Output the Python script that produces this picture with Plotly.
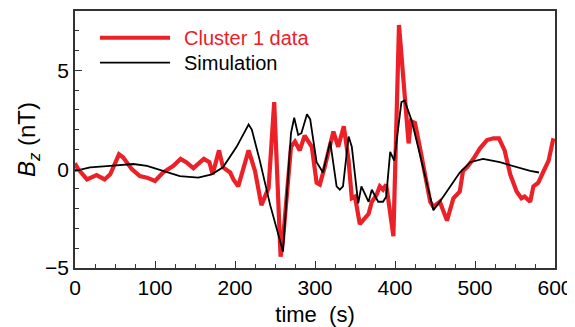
import plotly.graph_objects as go

# Cluster 1 data (red)
data_t = [0, 4, 15, 27, 37, 44, 55, 60, 71, 81, 90, 100, 110, 123, 132, 139, 148, 154, 161, 168,
          172, 180, 185, 194, 198, 204, 210, 217, 225, 233, 242, 249, 257, 260, 270, 275, 281,
          287, 296, 302, 306, 312, 323, 329, 336, 342, 346, 350, 356, 367, 371, 377, 381, 385,
          389, 398, 405, 410, 417, 420, 425, 431, 437, 444, 448, 456, 465, 473, 481, 485, 490,
          498, 506, 515, 523, 530, 537, 544, 552, 558, 562, 569, 573, 579, 585, 592, 598]
data_bz = [0.3, 0.0, -0.52, -0.3, -0.52, -0.26, 0.75, 0.6, 0.0, -0.35, -0.43, -0.6, -0.17, 0.17,
           0.52, 0.35, 0.05, 0.26, 0.52, 0.35, -0.26, 0.95, 0.09, -0.17, -0.52, -0.87, -0.09,
           0.95, -0.09, -1.82, -0.95, 3.39, -4.43, -3.56, 1.13, 1.39, 0.95, 1.7, 1.13, -0.69,
           -0.78, 0.09, 1.9, 1.13, 2.17, 0.43, -1.47, -1.39, -2.78, -2.26, -1.65, -1.3, -0.87,
           -1.04, -0.78, -3.39, 7.29, 4.95, 1.3, 2.43, 2.34, 1.13, -0.26, -1.65, -1.91, -1.65,
           -2.6, -1.47, -1.13, -0.09, 0.09, 0.52, 1.04, 1.47, 1.56, 1.56, 0.95, -0.26, -1.13,
           -1.47, -1.39, -1.65, -0.87, -0.69, -0.17, 0.43, 1.56]

# Simulation (black)
sim_t = [0, 19, 44, 73, 90, 110, 131, 154, 171, 185, 202, 217, 221, 231, 244, 260, 270, 274,
         279, 283, 290, 294, 302, 310, 319, 327, 331, 335, 342, 346, 354, 358, 367, 371, 379,
         385, 389, 394, 399, 408, 412, 421, 431, 442, 448, 456, 469, 481, 494, 510, 531, 552,
         569, 580]
sim_bz = [-0.09, 0.09, 0.17, 0.26, 0.17, -0.09, -0.35, -0.43, -0.26, 0.09, 1.13, 2.26, 2.0,
          0.43, -1.82, -4.17, 1.82, 2.6, 1.73, 1.82, 2.78, 2.52, 0.35, -0.17, 1.39, -0.87,
          -1.04, -0.87, 1.65, 1.13, -1.73, -0.87, -1.65, -1.04, -1.65, -1.65, -1.39, 0.87,
          0.43, 3.39, 3.47, 2.43, 0.78, -1.13, -2.08, -1.65, -0.87, -0.17, 0.35, 0.52, 0.35,
          0.09, -0.09, -0.17]

RED = "#ec2027"
FONT = "Liberation Sans, Arial, sans-serif"

fig = go.Figure()
fig.add_trace(go.Scatter(x=data_t, y=data_bz, mode="lines", name="Cluster 1 data",
                         line=dict(color=RED, width=4.2), showlegend=False))
fig.add_trace(go.Scatter(x=sim_t, y=sim_bz, mode="lines", name="Simulation",
                         line=dict(color="black", width=1.8), showlegend=False))

# legend drawn manually
fig.add_shape(type="line", xref="paper", yref="paper", x0=0.052, x1=0.198, y0=0.896, y1=0.896,
              line=dict(color=RED, width=4.2))
fig.add_shape(type="line", xref="paper", yref="paper", x0=0.052, x1=0.198, y0=0.799, y1=0.799,
              line=dict(color="black", width=1.8))
fig.add_annotation(xref="paper", yref="paper", x=0.222, y=0.896, xanchor="left", yanchor="middle",
                   text="Cluster 1 data", showarrow=False, font=dict(color=RED, size=20, family=FONT))
fig.add_annotation(xref="paper", yref="paper", x=0.222, y=0.799, xanchor="left", yanchor="middle",
                   text="Simulation", showarrow=False, font=dict(color="black", size=20, family=FONT))

axis_common = dict(showline=True, linecolor="#333", linewidth=1.5, mirror=True,
                   ticks="inside", ticklen=7, tickwidth=1.2, tickcolor="#333",
                   showgrid=False, zeroline=False, automargin=False,
                   tickfont=dict(size=21, family=FONT, color="black"))

fig.update_xaxes(range=[0, 600], dtick=100, tick0=0,
                 minor=dict(ticks="inside", ticklen=4, dtick=25, tickcolor="#333", tickwidth=1.2),
                 title=dict(text="time  (s)", font=dict(size=22, family=FONT), standoff=10),
                 **axis_common)
fig.update_yaxes(range=[-5, 8], dtick=5, tick0=0,
                 minor=dict(ticks="inside", ticklen=4, dtick=1, tickcolor="#333", tickwidth=1.2),
                 title=dict(text="<i>B</i><sub><i>z</i></sub> (nT)", font=dict(size=24, family=FONT),
                            standoff=3),
                 **axis_common)

# page body has an 8px margin, so the figure is 8px smaller and margins shifted
fig.update_layout(width=567, height=319, margin=dict(l=67, r=20, t=3, b=59),
                  plot_bgcolor="white", paper_bgcolor="white",
                  font=dict(family=FONT, color="black"))

fig.write_html("out.html")
